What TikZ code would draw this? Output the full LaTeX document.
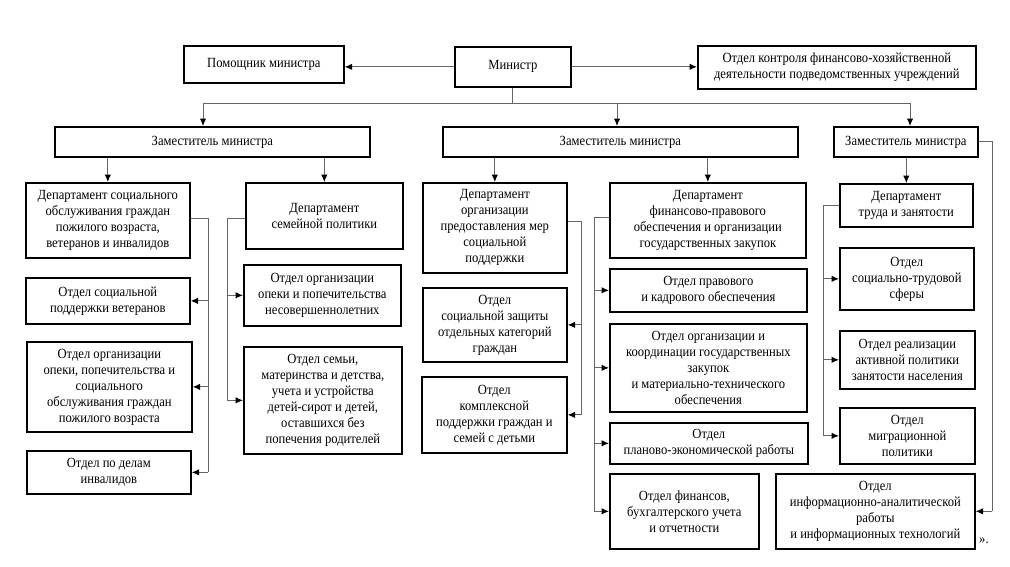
\documentclass[tikz,border=0pt]{standalone}
\usepackage{fontspec}
\setmainfont[FakeStretch=0.9]{Liberation Serif}
\usetikzlibrary{arrows.meta,calc}
\tikzset{
  box/.style={draw=black, line width=1.7pt, inner sep=1pt, align=center,
    font=\fontsize{14}{16}\selectfont, anchor=north west},
  conn/.style={draw=black!60, line width=1pt},
  arr/.style={conn, -{Latex[length=7.5pt,width=6.5pt,black]}},
}
\newcommand\bx[6]{\node[box, minimum width={(#4-#2)*1pt}, minimum height={(#5-#3)*1pt}] (#1) at (#2,#3) {#6};}
\begin{document}
\begin{tikzpicture}[x=1pt,y=-1pt]
\useasboundingbox[fill=white] (0,0) rectangle (1010,566);
% top
\bx{pom}{183}{45}{343}{82}{Помощник министра}
\bx{min}{454}{46}{570}{86}{Министр}
\bx{kon}{697}{45}{975}{88}{Отдел контроля финансово-хозяйственной\\деятельности подведомственных учреждений}
% deputies
\bx{za}{54}{126}{369}{156}{Заместитель министра}
\bx{zb}{442}{126}{797}{156}{Заместитель министра}
\bx{zc}{833}{126}{977}{156}{Заместитель министра}
% left column
\bx{da}{25}{182}{189}{257}{Департамент социального\\обслуживания граждан\\пожилого возраста,\\ветеранов и инвалидов}
\bx{oa1}{25}{277}{189}{323}{Отдел социальной\\поддержки ветеранов}
\bx{oa2}{26}{341}{191}{431}{Отдел организации\\опеки, попечительства и\\социального\\обслуживания граждан\\пожилого возраста}
\bx{oa3}{26}{450}{190}{493}{Отдел по делам\\инвалидов}
\bx{db}{245}{182}{402}{248}{Департамент\\семейной политики}
\bx{ob1}{243}{264}{400}{325}{Отдел организации\\опеки и попечительства\\несовершеннолетних}
\bx{ob2}{243}{346}{401}{453}{Отдел семьи,\\материнства и детства,\\учета и устройства\\детей-сирот и детей,\\оставшихся без\\попечения родителей}
% middle
\bx{dc}{422}{182}{566}{272}{Департамент\\организации\\предоставления мер\\социальной\\поддержки}
\bx{oc1}{422}{287}{566}{361}{Отдел\\социальной защиты\\отдельных категорий\\граждан}
\bx{oc2}{421}{376}{566}{452}{Отдел\\комплексной\\поддержки граждан и\\семей с детьми}
\bx{dd}{609}{182}{805}{257}{Департамент\\финансово-правового\\обеспечения и организации\\государственных закупок}
\bx{od1}{609}{268}{806}{311}{Отдел правового\\и кадрового обеспечения}
\bx{od2}{609}{323}{806}{411}{Отдел организации и\\координации государственных\\закупок\\и материально-технического\\обеспечения}
\bx{od3}{609}{422}{807}{463}{Отдел\\планово-экономической работы}
\bx{od4}{609}{473}{758}{548}{Отдел финансов,\\бухгалтерского учета\\и отчетности}
% right
\bx{de}{839}{183}{972}{226}{Департамент\\труда и занятости}
\bx{oe1}{839}{247}{973}{309}{Отдел\\социально-трудовой\\сферы}
\bx{oe2}{839}{330}{974}{388}{Отдел реализации\\активной политики\\занятости населения}
\bx{oe3}{839}{407}{974}{463}{Отдел\\миграционной\\политики}
\bx{inf}{775}{473}{974}{548}{Отдел\\информационно-аналитической\\работы\\и информационных технологий}
\node[anchor=west, inner sep=0pt, font=\fontsize{14}{16}\selectfont] (quote) at (979,541) {».};
% top connectors
\draw[arr] (min.west) -- (min.west -| pom.east);
\draw[arr] (min.east) -- (min.east -| kon.west);
\coordinate (hl) at (203,103);
\coordinate (hm) at (617,103);
\coordinate (hr) at (910,103);
\draw[conn] (min.south) -- (min.south |- hl);
\draw[conn] (hl) -- (hr);
\draw[arr] (hl) -- (hl |- za.north);
\draw[arr] (hm) -- (hm |- zb.north);
\draw[arr] (hr) -- (hr |- zc.north);
% deputy to departments
\draw[arr] (da.north |- za.south) -- (da.north);
\draw[arr] (db.north |- za.south) -- (db.north);
\draw[arr] (dc.north |- zb.south) -- (dc.north);
\draw[arr] (dd.north |- zb.south) -- (dd.north);
\draw[arr] (de.north |- zc.south) -- (de.north);
% left dept A
\coordinate (ca) at (208,218);
\draw[conn] (da.east |- ca) -- (ca) -- (ca |- oa3.east);
\draw[arr] (ca |- oa1.east) -- (oa1.east);
\draw[arr] (ca |- oa2.east) -- (oa2.east);
\draw[arr] (ca |- oa3.east) -- (oa3.east);
% dept B
\coordinate (cb) at (227,218);
\draw[conn] (db.west |- cb) -- (cb) -- (cb |- ob2.west);
\draw[arr] (cb |- ob1.west) -- (ob1.west);
\draw[arr] (cb |- ob2.west) -- (ob2.west);
% dept C
\coordinate (cc) at (581,221);
\draw[conn] (dc.east |- cc) -- (cc) -- (cc |- oc2.east);
\draw[arr] (cc |- oc1.east) -- (oc1.east);
\draw[arr] (cc |- oc2.east) -- (oc2.east);
% dept D
\coordinate (cd) at (594,217);
\draw[conn] (dd.west |- cd) -- (cd) -- (cd |- od4.west);
\draw[arr] (cd |- od1.west) -- (od1.west);
\draw[arr] (cd |- od2.west) -- (od2.west);
\draw[arr] (cd |- od3.west) -- (od3.west);
\draw[arr] (cd |- od4.west) -- (od4.west);
% dept E
\coordinate (ce) at (823,205);
\draw[conn] (de.west |- ce) -- (ce) -- (ce |- oe3.west);
\draw[arr] (ce |- oe1.west) -- (oe1.west);
\draw[arr] (ce |- oe2.west) -- (oe2.west);
\draw[arr] (ce |- oe3.west) -- (oe3.west);
% deputy C to info
\coordinate (cz) at (992,141);
\draw[conn] (zc.east |- cz) -- (cz) -- (cz |- inf.east);
\draw[arr] (cz |- inf.east) -- (inf.east);
\end{tikzpicture}
\end{document}
